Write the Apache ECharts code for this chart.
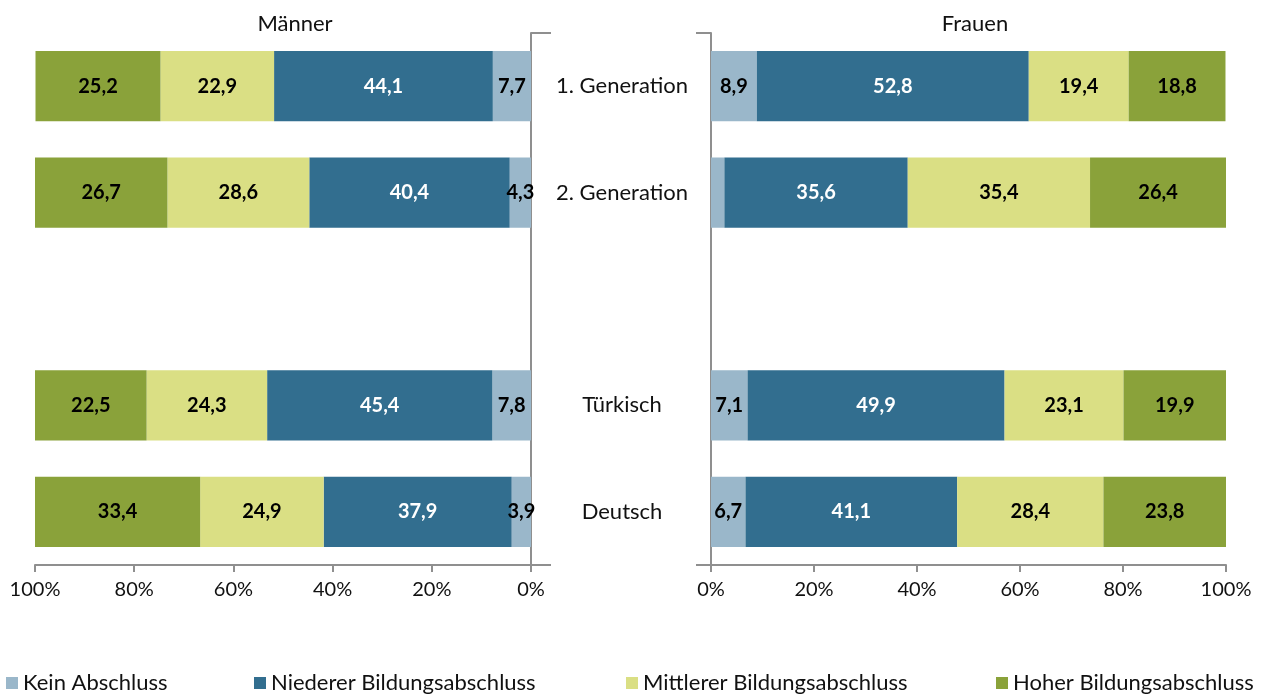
<!DOCTYPE html>
<html>
<head>
<meta charset="utf-8">
<script src="https://cdn.jsdelivr.net/npm/echarts@6/dist/echarts.min.js"></script>
<style>
  html, body { margin: 0; padding: 0; background: #fff; }
  #main { width: 1262px; height: 695px; }
</style>
</head>
<body>
<div id="main"></div>
<script>
// Kategorien (leere Zeile als Abstand)
var categories = ["1. Generation", "2. Generation", "", "Türkisch", "Deutsch"];
var seriesNames = ["Kein Abschluss", "Niederer Bildungsabschluss", "Mittlerer Bildungsabschluss", "Hoher Bildungsabschluss"];

// Männer
var menKein = [7.7, 4.3, null, 7.8, 3.9];
var menNieder = [44.1, 40.4, null, 45.4, 37.9];
var menMittel = [22.9, 28.6, null, 24.3, 24.9];
var menHoch = [25.2, 26.7, null, 22.5, 33.4];

// Frauen
var womenKein = [8.9, 2.6, null, 7.1, 6.7];
var womenNieder = [52.8, 35.6, null, 49.9, 41.1];
var womenMittel = [19.4, 35.4, null, 23.1, 28.4];
var womenHoch = [18.8, 26.4, null, 19.9, 23.8];

var colors = ["#9ab7ca", "#326e8f", "#dadf84", "#8aa23a"];
var labelColors = ["#000", "#fff", "#000", "#000"];
var FONT = "Lato";
var axisGray = "#8f8f8f";

var myChart = echarts.init(document.getElementById("main"));

// Werte mit Dezimalkomma, sehr schmale Balken ohne Beschriftung
function fmt(p) {
  if (p.value == null || p.value < 3) return "";
  return String(p.value).replace(".", ",");
}

function bar(name, idx, data, grid, stack) {
  return {
    name: name,
    type: "bar",
    stack: stack,
    xAxisIndex: grid,
    yAxisIndex: grid,
    data: data,
    barCategoryGap: "34%",
    itemStyle: { color: colors[idx] },
    label: {
      show: true,
      position: "inside",
      formatter: fmt,
      color: labelColors[idx],
      fontFamily: FONT,
      fontWeight: "bold",
      fontSize: 20
    },
    emphasis: { disabled: true }
  };
}

function valueAxis(grid, inverse) {
  return {
    type: "value",
    gridIndex: grid,
    min: 0,
    max: 100,
    interval: 20,
    inverse: inverse,
    axisLine: { show: true, lineStyle: { color: axisGray, width: 2 } },
    axisTick: { show: true, length: 7, lineStyle: { color: axisGray, width: 2 } },
    splitLine: { show: false },
    axisLabel: {
      formatter: "{value}%",
      margin: 15,
      color: "#111",
      fontFamily: FONT,
      fontSize: 20
    }
  };
}

var legendLeft = [6, 254, 626, 996];

myChart.setOption({
  backgroundColor: "#fff",
  animation: false,
  title: [
    { text: "Männer", left: 295, top: 13, textAlign: "center", padding: 0,
      textStyle: { fontFamily: FONT, fontSize: 22, fontWeight: "normal", color: "#111" } },
    { text: "Frauen", left: 975, top: 13, textAlign: "center", padding: 0,
      textStyle: { fontFamily: FONT, fontSize: 22, fontWeight: "normal", color: "#111" } }
  ],
  legend: seriesNames.map(function (n, i) {
    return {
      data: [n],
      left: legendLeft[i],
      top: 672,
      padding: 0,
      icon: "rect",
      itemWidth: 12,
      itemHeight: 12,
      selectedMode: false,
      textStyle: { fontFamily: FONT, fontSize: 22, color: "#111" }
    };
  }),
  grid: [
    { left: 35, width: 496, top: 33, height: 532 },
    { left: 711, width: 515, top: 33, height: 532 }
  ],
  xAxis: [valueAxis(0, true), valueAxis(1, false)],
  yAxis: [
    {
      type: "category",
      gridIndex: 0,
      data: categories,
      inverse: true,
      position: "right",
      axisLine: { show: true, lineStyle: { color: axisGray, width: 2 } },
      axisTick: { show: true, length: 20, interval: function (i) { return i === 0; },
        lineStyle: { color: axisGray, width: 2 } },
      axisLabel: { show: false }
    },
    {
      type: "category",
      gridIndex: 1,
      data: categories,
      inverse: true,
      position: "left",
      axisLine: { show: true, lineStyle: { color: axisGray, width: 2 } },
      axisTick: { show: true, length: 15, interval: function (i) { return i === 0; },
        lineStyle: { color: axisGray, width: 2 } },
      axisLabel: {
        align: "center",
        margin: 89,
        interval: 0,
        color: "#111",
        fontFamily: FONT,
        fontSize: 22
      }
    }
  ],
  series: [
    bar(seriesNames[0], 0, menKein, 0, "m"),
    bar(seriesNames[1], 1, menNieder, 0, "m"),
    bar(seriesNames[2], 2, menMittel, 0, "m"),
    bar(seriesNames[3], 3, menHoch, 0, "m"),
    bar(seriesNames[0], 0, womenKein, 1, "f"),
    bar(seriesNames[1], 1, womenNieder, 1, "f"),
    bar(seriesNames[2], 2, womenMittel, 1, "f"),
    bar(seriesNames[3], 3, womenHoch, 1, "f")
  ]
});
</script>
</body>
</html>
